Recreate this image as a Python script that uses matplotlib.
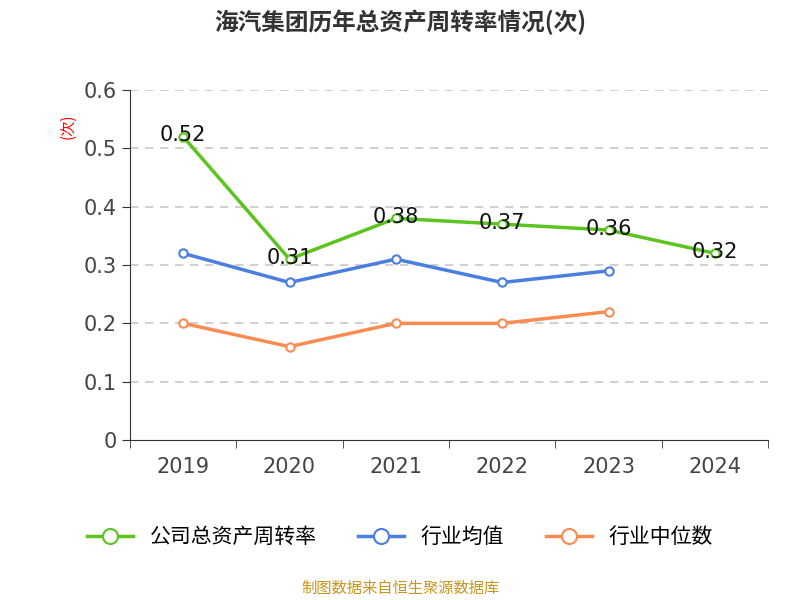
import matplotlib.pyplot as plt
from matplotlib import font_manager
import numpy as np

# find a CJK font file robustly
cjk = None
for f in font_manager.findSystemFonts():
    if 'CJK' in f or 'cjk' in f.lower():
        cjk = f
        if 'SC' in f or 'Regular' in f:
            break
if cjk:
    font_manager.fontManager.addfont(cjk)
    name = font_manager.FontProperties(fname=cjk).get_name()
    plt.rcParams['font.family'] = [name, 'DejaVu Sans']
else:
    plt.rcParams['font.family'] = ['Noto Sans CJK SC', 'Noto Sans CJK JP', 'DejaVu Sans']

years = ['2019', '2020', '2021', '2022', '2023', '2024']
company = [0.52, 0.31, 0.38, 0.37, 0.36, 0.32]
industry_avg = [0.32, 0.27, 0.31, 0.27, 0.29]
industry_median = [0.20, 0.16, 0.20, 0.20, 0.22]
yticks = [0, 0.1, 0.2, 0.3, 0.4, 0.5, 0.6]

fig = plt.figure(figsize=(8, 6), dpi=100)
ax = fig.add_axes([0.1625, 0.2667, 0.7975, 0.5833])

x = np.arange(len(years))
ax.plot(x, company, color='#5cc41e', lw=2.5, marker='o', ms=6,
        mfc='white', mew=1.5, label='公司总资产周转率', zorder=3)
ax.plot(x[:len(industry_avg)], industry_avg, color='#4a7fe0', lw=2.5, marker='o', ms=6,
        mfc='white', mew=1.5, label='行业均值', zorder=3)
ax.plot(x[:len(industry_median)], industry_median, color='#fa8c52', lw=2.5, marker='o', ms=6,
        mfc='white', mew=1.5, label='行业中位数', zorder=3)

for xi, v in zip(x, company):
    ax.text(xi, v + 0.002, f'{v:.2f}', ha='center', va='center', fontsize=15,
            color='#111111', family='DejaVu Sans', zorder=4)

ax.set_xlim(-0.5, len(years) - 0.5)
ax.set_ylim(0, 0.6)
ax.set_yticks(yticks)
ax.set_yticklabels(['0', '0.1', '0.2', '0.3', '0.4', '0.5', '0.6'], fontsize=15,
                   color='#444444', family='DejaVu Sans')
ax.set_xticks(x)
ax.set_xticklabels(years, fontsize=15, color='#444444', family='DejaVu Sans')
ax.set_xticks(np.arange(-0.5, len(years)), minor=True)
ax.tick_params(axis='x', which='major', length=0, pad=12)
ax.tick_params(axis='x', which='minor', length=6, color='#333333')
ax.tick_params(axis='y', length=6, color='#333333')
for yv in yticks[1:]:
    ax.axhline(yv, color='#c8c8c8', lw=1.2, ls=(0, (5, 4)), zorder=1)
for s in ['top', 'right']:
    ax.spines[s].set_visible(False)
ax.spines['left'].set_color('#333333')
ax.spines['bottom'].set_color('#333333')

fig.text(0.5, 0.963, '海汽集团历年总资产周转率情况(次)', ha='center', va='center',
         fontsize=17, fontweight='bold', color='#333333')
fig.text(0.085, 0.79, '(次)', ha='center', va='center', rotation=90, fontsize=11, color='red')

fig.legend(loc='center', bbox_to_anchor=(0.5, 0.105), ncol=3, frameon=False,
           fontsize=15, handlelength=2.2, columnspacing=2.0, markerscale=1.8)
fig.text(0.5, 0.02, '制图数据来自恒生聚源数据库', ha='center', va='center',
         fontsize=11, color='#c8961e')

fig.savefig('out.png')
